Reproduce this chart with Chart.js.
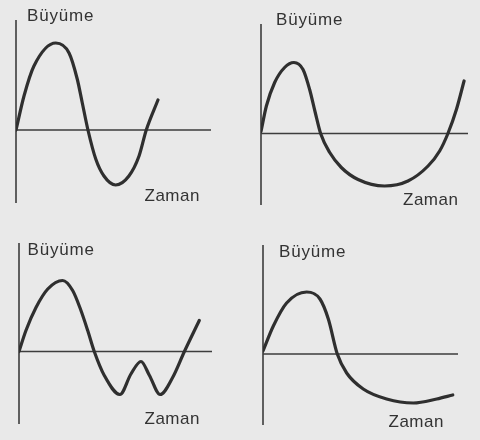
<!DOCTYPE html>
<html>
<head>
<meta charset="utf-8">
<script src="https://cdn.jsdelivr.net/npm/chart.js@4.4.1/dist/chart.umd.min.js"></script>
<style>
  body { margin: 0; background: #e9e9e9; }
  #wrap { position: relative; width: 480px; height: 440px; overflow: hidden; background: #e9e9e9; }
  canvas { position: absolute; }
  .lbl { position: absolute; font-family: 'Liberation Sans', Arial, sans-serif; font-size: 17px; line-height: 17px;
         color: #333; letter-spacing: 0.5px; white-space: nowrap; }
</style>
</head>
<body>
<div id="wrap"></div>
<script>
// axis labels
const yTitle = 'Büyüme';
const xTitle = 'Zaman';

// time (0..10 along the horizontal axis) and growth for each of the four panels
const time1   = [0, 0.41, 0.92, 2.04, 2.72, 3.14, 3.40, 3.69, 4.09, 4.51, 5.11, 5.79, 6.31, 6.68, 7.28];
const growth1 = [0, 3.4, 6.4, 8.7, 7.7, 5.1, 2.7, 0, -2.9, -4.6, -5.5, -4.6, -2.6, 0, 3.0];

const time2   = [0, 0.26, 0.66, 1.14, 1.59, 2.03, 2.35, 2.62, 2.88, 3.32, 3.88, 4.69, 5.97, 7.10, 8.07, 8.63, 9.03, 9.44, 9.81];
const growth2 = [0.2, 2.75, 5.1, 6.6, 7.1, 6.4, 4.4, 2.1, 0, -1.9, -3.4, -4.6, -5.25, -4.75, -3.25, -1.75, 0, 2.4, 5.25];

const time3   = [0, 0.36, 0.88, 1.49, 2.26, 2.78, 3.21, 3.56, 3.90, 4.42, 5.23, 5.80, 6.32, 6.76, 7.31, 7.96, 8.57, 9.34];
const growth3 = [0, 2.1, 4.4, 6.25, 7.1, 6.1, 4.1, 2.1, 0, -2.4, -4.3, -2.25, -1.0, -2.4, -4.3, -2.6, 0, 3.1];

const time4   = [0, 0.53, 1.21, 2.24, 2.92, 3.35, 3.81, 4.29, 5.14, 6.34, 7.71, 8.91, 9.73];
const growth4 = [0.3, 2.8, 5.1, 6.2, 5.5, 3.5, 0, -1.9, -3.5, -4.5, -4.9, -4.5, -4.1];

// panel layout: chart area box and value range of the growth axis
const panels = [
  { t: time1, g: growth1, left: 16,  top: 20,  w: 195, h: 183, ymin: -7.3, ymax: 11,
    yl: [27, 7],     xl: [144.5, 186.6] },
  { t: time2, g: growth2, left: 261, top: 24,  w: 207, h: 181, ymin: -7.15, ymax: 10.95,
    yl: [276, 10.6], xl: [403, 190.6] },
  { t: time3, g: growth3, left: 19,  top: 243, w: 193, h: 181, ymin: -7.25, ymax: 10.85,
    yl: [27.5, 240.6], xl: [144.5, 409.6] },
  { t: time4, g: growth4, left: 263, top: 245, w: 195, h: 180, ymin: -7.1, ymax: 10.9,
    yl: [279, 242.6], xl: [388.5, 412.6] }
];

const PAD = 3;

// draws the growth axis (vertical) and the time axis at growth = 0
const axesPlugin = {
  id: 'axes',
  beforeDatasetsDraw(chart) {
    const { ctx, chartArea, scales } = chart;
    const x0 = scales.x.getPixelForValue(0);
    const y0 = scales.y.getPixelForValue(0);
    ctx.save();
    ctx.strokeStyle = '#3d3d3d';
    ctx.lineWidth = 1.6;
    ctx.beginPath();
    ctx.moveTo(x0, chartArea.top);
    ctx.lineTo(x0, chartArea.bottom);
    ctx.moveTo(x0, y0);
    ctx.lineTo(scales.x.getPixelForValue(10), y0);
    ctx.stroke();
    ctx.restore();
  }
};

const wrap = document.getElementById('wrap');

panels.forEach(p => {
  const cv = document.createElement('canvas');
  cv.style.left = (p.left - PAD) + 'px';
  cv.style.top = (p.top - PAD) + 'px';
  cv.style.width = (p.w + PAD * 2) + 'px';
  cv.style.height = (p.h + PAD * 2) + 'px';
  cv.width = p.w + PAD * 2;
  cv.height = p.h + PAD * 2;
  wrap.appendChild(cv);

  new Chart(cv.getContext('2d'), {
    type: 'line',
    data: {
      datasets: [{
        data: p.t.map((x, i) => ({ x: x, y: p.g[i] })),
        borderColor: '#2f2f2f',
        borderWidth: 3.2,
        pointRadius: 0,
        fill: false,
        cubicInterpolationMode: 'monotone',
        borderCapStyle: 'round',
        borderJoinStyle: 'round'
      }]
    },
    options: {
      responsive: false,
      animation: false,
      layout: { padding: PAD },
      plugins: { legend: { display: false }, tooltip: { enabled: false } },
      scales: {
        x: { type: 'linear', min: 0, max: 10, display: false },
        y: { type: 'linear', min: p.ymin, max: p.ymax, display: false }
      }
    },
    plugins: [axesPlugin]
  });

  const a = document.createElement('div');
  a.className = 'lbl';
  a.textContent = yTitle;
  a.style.left = p.yl[0] + 'px';
  a.style.top = p.yl[1] + 'px';
  a.style.letterSpacing = '0.8px';
  wrap.appendChild(a);

  const b = document.createElement('div');
  b.className = 'lbl';
  b.textContent = xTitle;
  b.style.left = p.xl[0] + 'px';
  b.style.top = p.xl[1] + 'px';
  wrap.appendChild(b);
});
</script>
</body>
</html>
